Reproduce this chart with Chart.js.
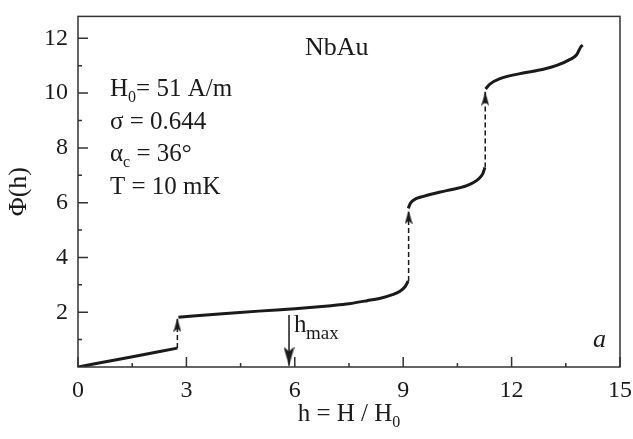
<!DOCTYPE html>
<html>
<head>
<meta charset="utf-8">
<script src="https://cdn.jsdelivr.net/npm/chart.js@4/dist/chart.umd.min.js"></script>
<style>
  html, body { margin: 0; padding: 0; background: #fff; }
  canvas { display: block; }
</style>
</head>
<body>
<canvas id="chart" width="633" height="439"></canvas>
<script>
/* ===== DATA ===== */
// curve pieces, between the jumps
const seg1H   = [0, 1.4, 2.75];
const seg1Phi = [0, 0.35, 0.69];

const seg2H   = [2.78, 4.0, 5.0, 6.0, 6.5, 7.0, 7.5, 8.0, 8.4, 8.7, 8.9, 9.05, 9.14];
const seg2Phi = [1.82, 1.94, 2.04, 2.13, 2.18, 2.24, 2.31, 2.42, 2.52, 2.64, 2.76, 2.93, 3.14];

const seg3H   = [9.14, 9.2, 9.28, 9.56, 10.2, 10.76, 11.08, 11.2, 11.26];
const seg3Phi = [5.79, 5.98, 6.09, 6.23, 6.44, 6.62, 6.86, 7.05, 7.28];

const seg4H   = [11.28, 11.4, 11.68, 12.23, 12.88, 13.25, 13.62, 13.8, 13.92, 13.97];
const seg4Phi = [10.15, 10.33, 10.53, 10.71, 10.87, 11.01, 11.23, 11.4, 11.7, 11.75];

// dashed jumps [from, to]
const jump1H = [2.75, 2.75];   const jump1Phi = [0.69, 1.78];
const jump2H = [9.15, 9.15];   const jump2Phi = [3.14, 5.72];
const jump3H = [11.27, 11.27]; const jump3Phi = [7.28, 10.05];

// h_max arrow
const hmaxH = [5.84, 5.84];
const hmaxPhi = [1.9, 0.05];

const xTicks = [0, 3, 6, 9, 12, 15];
const xMinor = [1.5, 4.5, 7.5, 10.5, 13.5];
const yTicks = [2, 4, 6, 8, 10, 12];
const yMinor = [1, 3, 5, 7, 9, 11];

const SERIF = '"Liberation Serif", "Times New Roman", serif';
const INK = '#1a1a1a';

/* ===== HELPERS ===== */
function pts(xs, ys) {
  return xs.map((x, i) => ({ x: x, y: ys[i] }));
}

// arrowhead bitmap, tip at canvas centre, pointing up
function makeArrow(w, len) {
  const c = document.createElement('canvas');
  c.width = w;
  c.height = len * 2;
  const g = c.getContext('2d');
  g.fillStyle = INK;
  g.beginPath();
  g.moveTo(w / 2, len);
  g.lineTo(w, len * 2);
  g.lineTo(w / 2, len * 1.75);
  g.lineTo(0, len * 2);
  g.closePath();
  g.fill();
  return c;
}

const smallArrow = makeArrow(8, 14);
const bigArrow = makeArrow(11, 19);

function curve(xs, ys) {
  return {
    data: pts(xs, ys),
    showLine: true,
    borderColor: INK,
    borderWidth: 3,
    pointRadius: 0,
    tension: 0.3,
    cubicInterpolationMode: 'monotone',
  };
}

function jump(xs, ys) {
  return {
    data: pts(xs, ys),
    showLine: true,
    borderColor: INK,
    borderWidth: 1.5,
    borderDash: [5, 3],
    pointRadius: [0, 8],
    pointStyle: [false, smallArrow],
  };
}

// text with a subscript piece
function subText(ctx, parts, x, y, size) {
  let cx = x;
  parts.forEach(p => {
    const fs = p.sub ? size * 0.64 : size;
    ctx.font = fs + 'px ' + SERIF;
    ctx.fillText(p.t, cx, y + (p.sub ? size * 0.25 : 0));
    cx += ctx.measureText(p.t).width;
  });
  return cx - x;
}

function subWidth(ctx, parts, size) {
  let w = 0;
  parts.forEach(p => {
    ctx.font = (p.sub ? size * 0.64 : size) + 'px ' + SERIF;
    w += ctx.measureText(p.t).width;
  });
  return w;
}

/* ===== FRAME + INWARD TICKS + LABELS ===== */
const framePlugin = {
  id: 'frame',
  afterDraw(chart) {
    const ctx = chart.ctx;
    const a = chart.chartArea;
    const xs = chart.scales.x;
    const ys = chart.scales.y;
    ctx.save();
    ctx.strokeStyle = '#333';
    ctx.lineWidth = 1.5;
    ctx.strokeRect(a.left, a.top, a.right - a.left, a.bottom - a.top);

    ctx.beginPath();
    xTicks.forEach(v => {
      const p = xs.getPixelForValue(v);
      ctx.moveTo(p, a.bottom); ctx.lineTo(p, a.bottom - 10);
    });
    xMinor.forEach(v => {
      const p = xs.getPixelForValue(v);
      ctx.moveTo(p, a.bottom); ctx.lineTo(p, a.bottom - 4);
    });
    yTicks.forEach(v => {
      const p = ys.getPixelForValue(v);
      ctx.moveTo(a.left, p); ctx.lineTo(a.left + 10, p);
    });
    yMinor.forEach(v => {
      const p = ys.getPixelForValue(v);
      ctx.moveTo(a.left, p); ctx.lineTo(a.left + 4, p);
    });
    ctx.stroke();

    // texts
    ctx.fillStyle = INK;
    ctx.textBaseline = 'alphabetic';
    ctx.textAlign = 'left';

    ctx.font = '26px ' + SERIF;
    ctx.fillText('NbAu', 305, 55);

    subText(ctx, [{ t: 'H' }, { t: '0', sub: true }, { t: '= 51 A/m' }], 110, 96, 25);
    subText(ctx, [{ t: 'σ = 0.644' }], 110, 129, 25);
    subText(ctx, [{ t: 'α' }, { t: 'c', sub: true }, { t: ' = 36°' }], 110, 161, 25);
    subText(ctx, [{ t: 'T = 10 mK' }], 110, 194, 25);

    ctx.font = '25px ' + SERIF;
    ctx.fillText('h', 294, 332);
    ctx.font = '19px ' + SERIF;
    ctx.fillText('max', 306, 339);

    ctx.font = 'italic 26px ' + SERIF;
    ctx.fillText('a', 593, 347);

    // x title
    const xt = [{ t: 'h = H / H' }, { t: '0', sub: true }];
    const w = subWidth(ctx, xt, 25);
    subText(ctx, xt, (a.left + a.right) / 2 - w / 2, 421, 25);

    // y title
    ctx.save();
    ctx.translate(19, (a.top + a.bottom) / 2);
    ctx.rotate(-Math.PI / 2);
    ctx.textAlign = 'center';
    ctx.textBaseline = 'middle';
    ctx.font = '26px ' + SERIF;
    ctx.fillText('Φ(h)', 0, 0);
    ctx.restore();

    ctx.restore();
  }
};

/* ===== CHART ===== */
const ctx = document.getElementById('chart').getContext('2d');
new Chart(ctx, {
  type: 'scatter',
  data: {
    datasets: [
      curve(seg1H, seg1Phi),
      curve(seg2H, seg2Phi),
      curve(seg3H, seg3Phi),
      curve(seg4H, seg4Phi),
      jump(jump1H, jump1Phi),
      jump(jump2H, jump2Phi),
      jump(jump3H, jump3Phi),
      {
        data: pts(hmaxH, hmaxPhi),
        showLine: true,
        borderColor: INK,
        borderWidth: 1.5,
        pointRadius: [0, 10],
        pointStyle: [false, bigArrow],
        rotation: 180,
      },
    ]
  },
  options: {
    responsive: false,
    animation: false,
    layout: { autoPadding: false, padding: { left: 0, top: 9, right: 12, bottom: 0 } },
    plugins: { legend: { display: false }, tooltip: { enabled: false } },
    scales: {
      x: {
        type: 'linear',
        min: 0,
        max: 15,
        afterBuildTicks: s => { s.ticks = xTicks.map(v => ({ value: v })); },
        afterFit: s => { s.height = 72; },
        grid: { display: false },
        border: { display: false },
        ticks: { color: INK, font: { family: SERIF, size: 24 }, padding: 1, maxRotation: 0, autoSkip: false },
      },
      y: {
        type: 'linear',
        min: 0,
        max: 12.8,
        afterBuildTicks: s => { s.ticks = yTicks.map(v => ({ value: v })); },
        afterFit: s => { s.width = 78; },
        grid: { display: false },
        border: { display: false },
        ticks: { color: INK, font: { family: SERIF, size: 24 }, padding: 2, autoSkip: false },
      }
    }
  },
  plugins: [framePlugin]
});
</script>
</body>
</html>
